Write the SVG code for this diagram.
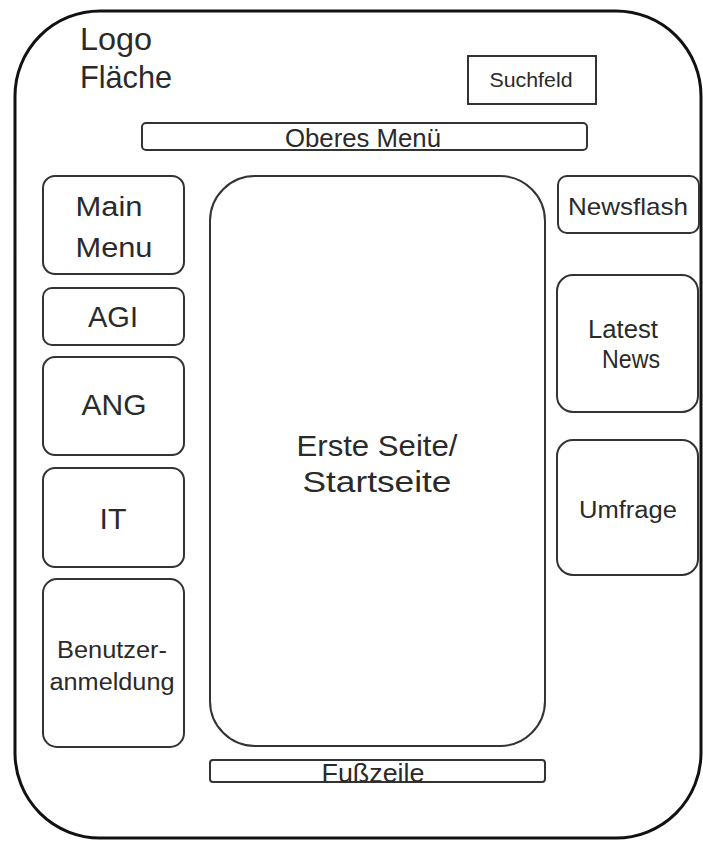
<svg xmlns="http://www.w3.org/2000/svg" width="703" height="842" viewBox="0 0 703 842">
  <style>
    .frame { fill: #ffffff; stroke: #111111; stroke-width: 3; }
    .box { fill: #ffffff; stroke: #333333; stroke-width: 2; }
    .lbl { font-family: "Liberation Sans", Arial, sans-serif; fill: #2a2a2a; text-anchor: middle; }
    .lft { font-family: "Liberation Sans", Arial, sans-serif; fill: #2a2a2a; }
  </style>
  <rect x="0" y="0" width="703" height="842" fill="#ffffff"/>

  <!-- page frame -->
  <g id="page">
    <rect class="frame" x="15" y="11" width="686" height="827" rx="85" ry="85"/>
  </g>

  <!-- header -->
  <g id="logo">
    <text class="lft" x="80" y="50" font-size="32" textLength="72" lengthAdjust="spacingAndGlyphs">Logo</text>
    <text class="lft" x="80" y="88" font-size="32" textLength="92" lengthAdjust="spacingAndGlyphs">Fläche</text>
  </g>
  <g id="suchfeld">
    <rect class="box" x="468" y="56" width="128" height="48"/>
    <text class="lbl" x="531" y="87" font-size="20" textLength="83" lengthAdjust="spacingAndGlyphs">Suchfeld</text>
  </g>
  <g id="oberes-menue">
    <rect class="box" x="142" y="123" width="445" height="27" rx="4"/>
    <text class="lbl" x="363" y="147" font-size="25" textLength="156" lengthAdjust="spacingAndGlyphs">Oberes Menü</text>
  </g>

  <!-- left column -->
  <g id="main-menu">
    <rect class="box" x="43" y="176" width="141" height="98" rx="12"/>
    <text class="lbl" x="109" y="216" font-size="27" textLength="67" lengthAdjust="spacingAndGlyphs">Main</text>
    <text class="lbl" x="114" y="257" font-size="27" textLength="77" lengthAdjust="spacingAndGlyphs">Menu</text>
  </g>
  <g id="agi">
    <rect class="box" x="43" y="288" width="141" height="57" rx="9"/>
    <text class="lbl" x="113" y="327" font-size="29" textLength="50" lengthAdjust="spacingAndGlyphs">AGI</text>
  </g>
  <g id="ang">
    <rect class="box" x="43" y="357" width="141" height="98" rx="12"/>
    <text class="lbl" x="114" y="415" font-size="29" textLength="65" lengthAdjust="spacingAndGlyphs">ANG</text>
  </g>
  <g id="it">
    <rect class="box" x="43" y="468" width="141" height="99" rx="12"/>
    <text class="lbl" x="113" y="529" font-size="30" textLength="27" lengthAdjust="spacingAndGlyphs">IT</text>
  </g>
  <g id="benutzeranmeldung">
    <rect class="box" x="43" y="579" width="141" height="168" rx="14"/>
    <text class="lbl" x="112" y="658" font-size="23" textLength="110" lengthAdjust="spacingAndGlyphs">Benutzer-</text>
    <text class="lbl" x="112" y="690" font-size="23" textLength="125" lengthAdjust="spacingAndGlyphs">anmeldung</text>
  </g>

  <!-- content area -->
  <g id="startseite">
    <rect class="box" x="210" y="176" width="335" height="570" rx="45"/>
    <text class="lbl" x="377" y="456" font-size="30" textLength="161" lengthAdjust="spacingAndGlyphs">Erste Seite/</text>
    <text class="lbl" x="377" y="492" font-size="30" textLength="149" lengthAdjust="spacingAndGlyphs">Startseite</text>
  </g>
  <g id="fusszeile">
    <rect class="box" x="210" y="760" width="335" height="22" rx="3"/>
    <text class="lbl" x="373" y="782" font-size="26" textLength="103" lengthAdjust="spacingAndGlyphs">Fußzeile</text>
  </g>

  <!-- right column -->
  <g id="newsflash">
    <rect class="box" x="558" y="176" width="141" height="57" rx="9"/>
    <text class="lbl" x="628" y="215" font-size="24" textLength="120" lengthAdjust="spacingAndGlyphs">Newsflash</text>
  </g>
  <g id="latest-news">
    <rect class="box" x="557" y="275" width="141" height="137" rx="16"/>
    <text class="lbl" x="623" y="338" font-size="26" textLength="70" lengthAdjust="spacingAndGlyphs">Latest</text>
    <text class="lbl" x="631" y="368" font-size="26" textLength="58" lengthAdjust="spacingAndGlyphs">News</text>
  </g>
  <g id="umfrage">
    <rect class="box" x="557" y="440" width="141" height="135" rx="16"/>
    <text class="lbl" x="628" y="518" font-size="23" textLength="98" lengthAdjust="spacingAndGlyphs">Umfrage</text>
  </g>

  <g id="connectors"/>
</svg>
